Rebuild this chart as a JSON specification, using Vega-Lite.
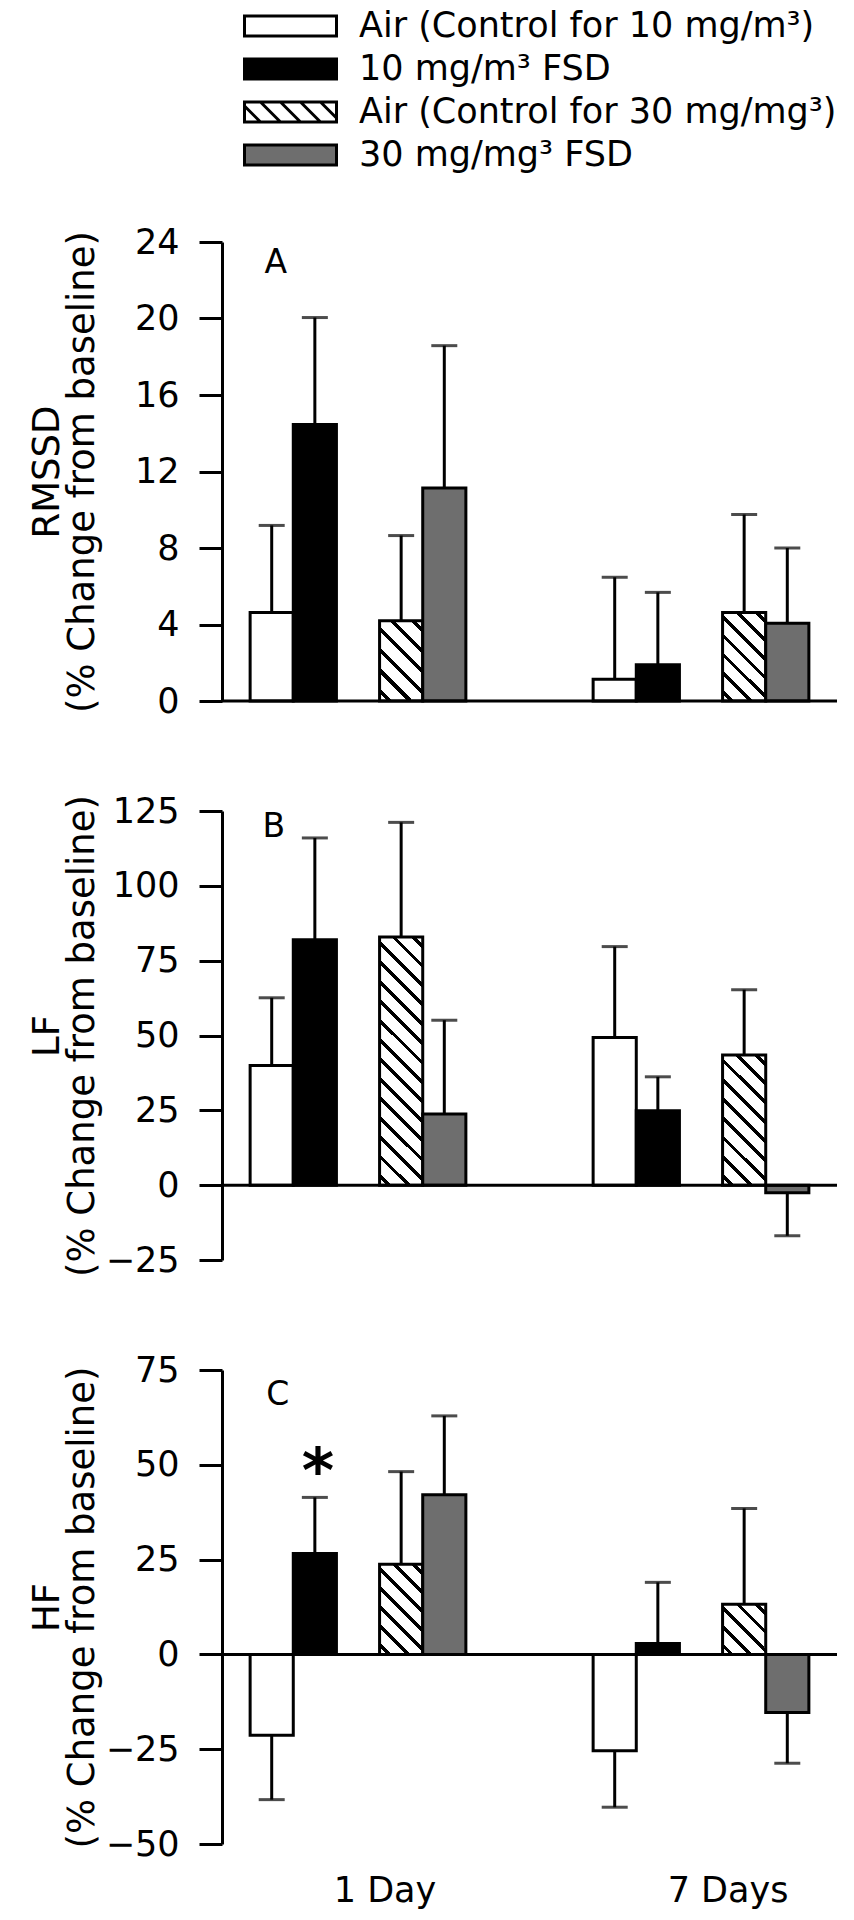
{
"$schema": "https://vega.github.io/schema/vega-lite/v6.json",
"background": "white",
"padding": {"left": 28, "top": 8, "right": 10, "bottom": 10},
"config": {
  "view": {"stroke": null},
  "font": "DejaVu Sans",
  "axis": {"domainColor": "black", "domainWidth": 3, "tickColor": "black", "tickWidth": 3, "labelColor": "black", "labelFont": "DejaVu Sans", "titleFont": "DejaVu Sans", "titleColor": "black", "titleFontWeight": "normal", "grid": false},
  "axisY": {"tickSize": 23, "labelFontSize": 35, "labelPadding": 20, "titleFontSize": 37, "titleAngle": 270, "titleAlign": "center", "titleBaseline": "alphabetic", "titleX": -164, "titleLineHeight": 35}
},
"datasets": {
  "bars": [
    {"panel": "A", "day": "1 Day", "group": "Air (Control for 10 mg/m³)", "mean": 4.63, "err": 9.18},
    {"panel": "A", "day": "1 Day", "group": "10 mg/m³ FSD", "mean": 14.46, "err": 20.05},
    {"panel": "A", "day": "1 Day", "group": "Air (Control for 30 mg/mg³)", "mean": 4.2, "err": 8.65},
    {"panel": "A", "day": "1 Day", "group": "30 mg/mg³ FSD", "mean": 11.14, "err": 18.58},
    {"panel": "A", "day": "7 Days", "group": "Air (Control for 10 mg/m³)", "mean": 1.14, "err": 6.47},
    {"panel": "A", "day": "7 Days", "group": "10 mg/m³ FSD", "mean": 1.9, "err": 5.68},
    {"panel": "A", "day": "7 Days", "group": "Air (Control for 30 mg/mg³)", "mean": 4.63, "err": 9.75},
    {"panel": "A", "day": "7 Days", "group": "30 mg/mg³ FSD", "mean": 4.07, "err": 8.0},
    {"panel": "B", "day": "1 Day", "group": "Air (Control for 10 mg/m³)", "mean": 40.0, "err": 62.6},
    {"panel": "B", "day": "1 Day", "group": "10 mg/m³ FSD", "mean": 82.0, "err": 116.0},
    {"panel": "B", "day": "1 Day", "group": "Air (Control for 30 mg/mg³)", "mean": 82.9, "err": 121.2},
    {"panel": "B", "day": "1 Day", "group": "30 mg/mg³ FSD", "mean": 23.8, "err": 55.1},
    {"panel": "B", "day": "7 Days", "group": "Air (Control for 10 mg/m³)", "mean": 49.3, "err": 79.7},
    {"panel": "B", "day": "7 Days", "group": "10 mg/m³ FSD", "mean": 24.9, "err": 36.2},
    {"panel": "B", "day": "7 Days", "group": "Air (Control for 30 mg/mg³)", "mean": 43.5, "err": 65.3},
    {"panel": "B", "day": "7 Days", "group": "30 mg/mg³ FSD", "mean": -2.5, "err": -16.9},
    {"panel": "C", "day": "1 Day", "group": "Air (Control for 10 mg/m³)", "mean": -21.3, "err": -38.3},
    {"panel": "C", "day": "1 Day", "group": "10 mg/m³ FSD", "mean": 26.6, "err": 41.4},
    {"panel": "C", "day": "1 Day", "group": "Air (Control for 30 mg/mg³)", "mean": 23.8, "err": 48.2},
    {"panel": "C", "day": "1 Day", "group": "30 mg/mg³ FSD", "mean": 42.1, "err": 62.9},
    {"panel": "C", "day": "7 Days", "group": "Air (Control for 10 mg/m³)", "mean": -25.4, "err": -40.3},
    {"panel": "C", "day": "7 Days", "group": "10 mg/m³ FSD", "mean": 2.9, "err": 19.0},
    {"panel": "C", "day": "7 Days", "group": "Air (Control for 30 mg/mg³)", "mean": 13.2, "err": 38.5},
    {"panel": "C", "day": "7 Days", "group": "30 mg/mg³ FSD", "mean": -15.3, "err": -28.7}
  ]
},
"spacing": 110,
"bounds": "flush",
"resolve": {"scale": {"y": "independent", "fill": "shared"}, "legend": {"fill": "shared"}},
"vconcat": [
{
  "width": 615, "height": 459,
  "layer": [
    {
      "data": {"name": "bars"},
      "transform": [{"filter": "datum.panel === 'A'"}],
      "mark": {"type": "bar", "stroke": "black", "strokeWidth": 3, "width": {"band": 1}},
      "encoding": {
        "x": {"field": "day", "type": "nominal", "sort": ["1 Day", "7 Days"], "scale": {"paddingInner": 0.371, "paddingOuter": 0.082}, "axis": null},
        "xOffset": {"field": "group", "type": "nominal", "scale": {"domain": ["Air (Control for 10 mg/m³)", "10 mg/m³ FSD", "gap", "Air (Control for 30 mg/mg³)", "30 mg/mg³ FSD"], "paddingInner": 0, "paddingOuter": 0}},
        "y": {"field": "mean", "type": "quantitative", "scale": {"domain": [0, 24], "nice": false, "zero": false}, "axis": {"values": [0, 4, 8, 12, 16, 20, 24], "title": ["RMSSD", "(% Change from baseline)"], "titleY": 229.5}},
        "fill": {
          "field": "group", "type": "nominal",
          "scale": {"domain": ["Air (Control for 10 mg/m³)", "10 mg/m³ FSD", "Air (Control for 30 mg/mg³)", "30 mg/mg³ FSD"], "range": ["white", "black", "white", "#6e6e6e"]},
          "legend": {
            "title": null, "orient": "none", "legendX": 22, "legendY": -233.5, "direction": "vertical", "padding": 0,
            "symbolType": "M-4.6,-1H4.6V1H-4.6Z", "symbolSize": 400, "symbolStrokeColor": "black", "symbolStrokeWidth": 3, "symbolOffset": 29,
            "labelFont": "DejaVu Sans", "labelFontSize": 35, "labelColor": "black", "labelLimit": 800, "labelOffset": 51, "rowPadding": 7,
            "encode": {"symbols": {"update": {
              "shape": [
                {"test": "datum.value === 'Air (Control for 30 mg/mg³)'", "value": "M-4.6,-1H4.6V1H-4.6Z M-4.6,-0.6L-3,1 M-3,-1L-1,1 M-1,-1L1,1 M1,-1L3,1 M3,-1L4.6,0.6"},
                {"value": "M-4.6,-1H4.6V1H-4.6Z"}
              ],
              "fill": [
                {"test": "datum.value === '10 mg/m³ FSD'", "value": "black"},
                {"test": "datum.value === '30 mg/mg³ FSD'", "value": "#6e6e6e"},
                {"value": "white"}
              ],
              "stroke": {"value": "black"},
              "strokeWidth": {"value": 3},
              "opacity": {"value": 1}
            }}}
          },
          "condition": [
            {"test": "datum.day === '1 Day' && datum.group === 'Air (Control for 30 mg/mg³)'", "value": {"gradient": "linear", "x1": 0, "y1": 1, "x2": 0.6412, "y2": -0.1929, "stops": [
                {"offset": 0.0625, "color": "#fff"}, {"offset": 0.0625, "color": "#000"}, {"offset": 0.1042, "color": "#000"}, {"offset": 0.1042, "color": "#fff"},
                {"offset": 0.2292, "color": "#fff"}, {"offset": 0.2292, "color": "#000"}, {"offset": 0.2708, "color": "#000"}, {"offset": 0.2708, "color": "#fff"},
                {"offset": 0.3958, "color": "#fff"}, {"offset": 0.3958, "color": "#000"}, {"offset": 0.4375, "color": "#000"}, {"offset": 0.4375, "color": "#fff"},
                {"offset": 0.5625, "color": "#fff"}, {"offset": 0.5625, "color": "#000"}, {"offset": 0.6042, "color": "#000"}, {"offset": 0.6042, "color": "#fff"},
                {"offset": 0.7292, "color": "#fff"}, {"offset": 0.7292, "color": "#000"}, {"offset": 0.7708, "color": "#000"}, {"offset": 0.7708, "color": "#fff"},
                {"offset": 0.8958, "color": "#fff"}, {"offset": 0.8958, "color": "#000"}, {"offset": 0.9375, "color": "#000"}, {"offset": 0.9375, "color": "#fff"}]}},
            {"test": "datum.day === '7 Days' && datum.group === 'Air (Control for 30 mg/mg³)'", "value": {"gradient": "linear", "x1": 0, "y1": 1, "x2": 0.5841, "y2": -0.2022, "stops": [
                {"offset": 0.0536, "color": "#fff"}, {"offset": 0.0536, "color": "#000"}, {"offset": 0.0893, "color": "#000"}, {"offset": 0.0893, "color": "#fff"},
                {"offset": 0.1964, "color": "#fff"}, {"offset": 0.1964, "color": "#000"}, {"offset": 0.2321, "color": "#000"}, {"offset": 0.2321, "color": "#fff"},
                {"offset": 0.3393, "color": "#fff"}, {"offset": 0.3393, "color": "#000"}, {"offset": 0.375, "color": "#000"}, {"offset": 0.375, "color": "#fff"},
                {"offset": 0.4821, "color": "#fff"}, {"offset": 0.4821, "color": "#000"}, {"offset": 0.5179, "color": "#000"}, {"offset": 0.5179, "color": "#fff"},
                {"offset": 0.625, "color": "#fff"}, {"offset": 0.625, "color": "#000"}, {"offset": 0.6607, "color": "#000"}, {"offset": 0.6607, "color": "#fff"},
                {"offset": 0.7679, "color": "#fff"}, {"offset": 0.7679, "color": "#000"}, {"offset": 0.8036, "color": "#000"}, {"offset": 0.8036, "color": "#fff"},
                {"offset": 0.9107, "color": "#fff"}, {"offset": 0.9107, "color": "#000"}, {"offset": 0.9464, "color": "#000"}, {"offset": 0.9464, "color": "#fff"}]}}
          ]
        }
      }
    },
    {
      "data": {"values": [{"v": 0}]},
      "mark": {"type": "rule", "color": "black", "strokeWidth": 3},
      "encoding": {"y": {"field": "v", "type": "quantitative"}}
    },
    {
      "data": {"name": "bars"},
      "transform": [{"filter": "datum.panel === 'A'"}],
      "mark": {"type": "rule", "color": "black", "strokeWidth": 3},
      "encoding": {
        "x": {"field": "day", "type": "nominal", "sort": ["1 Day", "7 Days"], "axis": null},
        "xOffset": {"field": "group", "type": "nominal"},
        "y": {"field": "mean", "type": "quantitative"},
        "y2": {"field": "err"}
      }
    },
    {
      "data": {"name": "bars"},
      "transform": [{"filter": "datum.panel === 'A'"}],
      "mark": {"type": "tick", "color": "black", "thickness": 3, "size": 26},
      "encoding": {
        "x": {"field": "day", "type": "nominal", "sort": ["1 Day", "7 Days"], "axis": null},
        "xOffset": {"field": "group", "type": "nominal"},
        "y": {"field": "err", "type": "quantitative"}
      }
    },
    {
      "data": {"values": [{"day": "1 Day", "group": "Air (Control for 10 mg/m³)", "y": 24, "label": "A"}]},
      "mark": {"type": "text", "fontSize": 33, "baseline": "top", "dy": 5, "dx": 4, "color": "black", "font": "DejaVu Sans"},
      "encoding": {
        "x": {"field": "day", "type": "nominal", "sort": ["1 Day", "7 Days"], "axis": null},
        "xOffset": {"field": "group", "type": "nominal"},
        "y": {"field": "y", "type": "quantitative"},
        "text": {"field": "label"}
      }
    }
  ]
},
{
  "width": 615, "height": 449,
  "layer": [
    {
      "data": {"name": "bars"},
      "transform": [{"filter": "datum.panel === 'B'"}],
      "mark": {"type": "bar", "stroke": "black", "strokeWidth": 3, "width": {"band": 1}},
      "encoding": {
        "x": {"field": "day", "type": "nominal", "sort": ["1 Day", "7 Days"], "scale": {"paddingInner": 0.371, "paddingOuter": 0.082}, "axis": null},
        "xOffset": {"field": "group", "type": "nominal", "scale": {"domain": ["Air (Control for 10 mg/m³)", "10 mg/m³ FSD", "gap", "Air (Control for 30 mg/mg³)", "30 mg/mg³ FSD"], "paddingInner": 0, "paddingOuter": 0}},
        "y": {"field": "mean", "type": "quantitative", "scale": {"domain": [-25, 125], "nice": false, "zero": false}, "axis": {"values": [-25, 0, 25, 50, 75, 100, 125], "title": ["LF", "(% Change from baseline)"], "titleY": 224.5}},
        "fill": {
          "field": "group", "type": "nominal", "legend": null,
          "condition": [
            {"test": "datum.day === '1 Day' && datum.group === 'Air (Control for 30 mg/mg³)'", "value": {"gradient": "linear", "x1": 0, "y1": 1, "x2": 0.1975, "y2": -0.1391, "stops": [
                {"offset": 0.025, "color": "#fff"}, {"offset": 0.025, "color": "#000"}, {"offset": 0.0417, "color": "#000"}, {"offset": 0.0417, "color": "#fff"},
                {"offset": 0.0917, "color": "#fff"}, {"offset": 0.0917, "color": "#000"}, {"offset": 0.1083, "color": "#000"}, {"offset": 0.1083, "color": "#fff"},
                {"offset": 0.1583, "color": "#fff"}, {"offset": 0.1583, "color": "#000"}, {"offset": 0.175, "color": "#000"}, {"offset": 0.175, "color": "#fff"},
                {"offset": 0.225, "color": "#fff"}, {"offset": 0.225, "color": "#000"}, {"offset": 0.2417, "color": "#000"}, {"offset": 0.2417, "color": "#fff"},
                {"offset": 0.2917, "color": "#fff"}, {"offset": 0.2917, "color": "#000"}, {"offset": 0.3083, "color": "#000"}, {"offset": 0.3083, "color": "#fff"},
                {"offset": 0.3583, "color": "#fff"}, {"offset": 0.3583, "color": "#000"}, {"offset": 0.375, "color": "#000"}, {"offset": 0.375, "color": "#fff"},
                {"offset": 0.425, "color": "#fff"}, {"offset": 0.425, "color": "#000"}, {"offset": 0.4417, "color": "#000"}, {"offset": 0.4417, "color": "#fff"},
                {"offset": 0.4917, "color": "#fff"}, {"offset": 0.4917, "color": "#000"}, {"offset": 0.5083, "color": "#000"}, {"offset": 0.5083, "color": "#fff"},
                {"offset": 0.5583, "color": "#fff"}, {"offset": 0.5583, "color": "#000"}, {"offset": 0.575, "color": "#000"}, {"offset": 0.575, "color": "#fff"},
                {"offset": 0.625, "color": "#fff"}, {"offset": 0.625, "color": "#000"}, {"offset": 0.6417, "color": "#000"}, {"offset": 0.6417, "color": "#fff"},
                {"offset": 0.6917, "color": "#fff"}, {"offset": 0.6917, "color": "#000"}, {"offset": 0.7083, "color": "#000"}, {"offset": 0.7083, "color": "#fff"},
                {"offset": 0.7583, "color": "#fff"}, {"offset": 0.7583, "color": "#000"}, {"offset": 0.775, "color": "#000"}, {"offset": 0.775, "color": "#fff"},
                {"offset": 0.825, "color": "#fff"}, {"offset": 0.825, "color": "#000"}, {"offset": 0.8417, "color": "#000"}, {"offset": 0.8417, "color": "#fff"},
                {"offset": 0.8917, "color": "#fff"}, {"offset": 0.8917, "color": "#000"}, {"offset": 0.9083, "color": "#000"}, {"offset": 0.9083, "color": "#fff"},
                {"offset": 0.9583, "color": "#fff"}, {"offset": 0.9583, "color": "#000"}, {"offset": 0.975, "color": "#000"}, {"offset": 0.975, "color": "#fff"}]}},
            {"test": "datum.day === '7 Days' && datum.group === 'Air (Control for 30 mg/mg³)'", "value": {"gradient": "linear", "x1": 0, "y1": 1, "x2": 0.3968, "y2": -0.1996, "stops": [
                {"offset": 0.0417, "color": "#fff"}, {"offset": 0.0417, "color": "#000"}, {"offset": 0.0694, "color": "#000"}, {"offset": 0.0694, "color": "#fff"},
                {"offset": 0.1528, "color": "#fff"}, {"offset": 0.1528, "color": "#000"}, {"offset": 0.1806, "color": "#000"}, {"offset": 0.1806, "color": "#fff"},
                {"offset": 0.2639, "color": "#fff"}, {"offset": 0.2639, "color": "#000"}, {"offset": 0.2917, "color": "#000"}, {"offset": 0.2917, "color": "#fff"},
                {"offset": 0.375, "color": "#fff"}, {"offset": 0.375, "color": "#000"}, {"offset": 0.4028, "color": "#000"}, {"offset": 0.4028, "color": "#fff"},
                {"offset": 0.4861, "color": "#fff"}, {"offset": 0.4861, "color": "#000"}, {"offset": 0.5139, "color": "#000"}, {"offset": 0.5139, "color": "#fff"},
                {"offset": 0.5972, "color": "#fff"}, {"offset": 0.5972, "color": "#000"}, {"offset": 0.625, "color": "#000"}, {"offset": 0.625, "color": "#fff"},
                {"offset": 0.7083, "color": "#fff"}, {"offset": 0.7083, "color": "#000"}, {"offset": 0.7361, "color": "#000"}, {"offset": 0.7361, "color": "#fff"},
                {"offset": 0.8194, "color": "#fff"}, {"offset": 0.8194, "color": "#000"}, {"offset": 0.8472, "color": "#000"}, {"offset": 0.8472, "color": "#fff"},
                {"offset": 0.9306, "color": "#fff"}, {"offset": 0.9306, "color": "#000"}, {"offset": 0.9583, "color": "#000"}, {"offset": 0.9583, "color": "#fff"}]}}
          ]
        }
      }
    },
    {
      "data": {"values": [{"v": 0}]},
      "mark": {"type": "rule", "color": "black", "strokeWidth": 3},
      "encoding": {"y": {"field": "v", "type": "quantitative"}}
    },
    {
      "data": {"name": "bars"},
      "transform": [{"filter": "datum.panel === 'B'"}],
      "mark": {"type": "rule", "color": "black", "strokeWidth": 3},
      "encoding": {
        "x": {"field": "day", "type": "nominal", "sort": ["1 Day", "7 Days"], "axis": null},
        "xOffset": {"field": "group", "type": "nominal"},
        "y": {"field": "mean", "type": "quantitative"},
        "y2": {"field": "err"}
      }
    },
    {
      "data": {"name": "bars"},
      "transform": [{"filter": "datum.panel === 'B'"}],
      "mark": {"type": "tick", "color": "black", "thickness": 3, "size": 26},
      "encoding": {
        "x": {"field": "day", "type": "nominal", "sort": ["1 Day", "7 Days"], "axis": null},
        "xOffset": {"field": "group", "type": "nominal"},
        "y": {"field": "err", "type": "quantitative"}
      }
    },
    {
      "data": {"values": [{"day": "1 Day", "group": "Air (Control for 10 mg/m³)", "y": 125, "label": "B"}]},
      "mark": {"type": "text", "fontSize": 33, "baseline": "top", "dy": 0, "dx": 2, "color": "black", "font": "DejaVu Sans"},
      "encoding": {
        "x": {"field": "day", "type": "nominal", "sort": ["1 Day", "7 Days"], "axis": null},
        "xOffset": {"field": "group", "type": "nominal"},
        "y": {"field": "y", "type": "quantitative"},
        "text": {"field": "label"}
      }
    }
  ]
},
{
  "width": 615, "height": 474,
  "layer": [
    {
      "data": {"name": "bars"},
      "transform": [{"filter": "datum.panel === 'C'"}],
      "mark": {"type": "bar", "stroke": "black", "strokeWidth": 3, "width": {"band": 1}},
      "encoding": {
        "x": {"field": "day", "type": "nominal", "sort": ["1 Day", "7 Days"], "scale": {"paddingInner": 0.371, "paddingOuter": 0.082}, "axis": {"title": null, "domain": false, "ticks": false, "labelAngle": 0, "labelFontSize": 35, "labelPadding": 29, "labelOffset": 27}},
        "xOffset": {"field": "group", "type": "nominal", "scale": {"domain": ["Air (Control for 10 mg/m³)", "10 mg/m³ FSD", "gap", "Air (Control for 30 mg/mg³)", "30 mg/mg³ FSD"], "paddingInner": 0, "paddingOuter": 0}},
        "y": {"field": "mean", "type": "quantitative", "scale": {"domain": [-50, 75], "nice": false, "zero": false}, "axis": {"values": [-50, -25, 0, 25, 50, 75], "title": ["HF", "(% Change from baseline)"], "titleY": 237}},
        "fill": {
          "field": "group", "type": "nominal", "legend": null,
          "condition": [
            {"test": "datum.day === '1 Day' && datum.group === 'Air (Control for 30 mg/mg³)'", "value": {"gradient": "linear", "x1": 0, "y1": 1, "x2": 0.5779, "y2": -0.2028, "stops": [
                {"offset": 0.0536, "color": "#fff"}, {"offset": 0.0536, "color": "#000"}, {"offset": 0.0893, "color": "#000"}, {"offset": 0.0893, "color": "#fff"},
                {"offset": 0.1964, "color": "#fff"}, {"offset": 0.1964, "color": "#000"}, {"offset": 0.2321, "color": "#000"}, {"offset": 0.2321, "color": "#fff"},
                {"offset": 0.3393, "color": "#fff"}, {"offset": 0.3393, "color": "#000"}, {"offset": 0.375, "color": "#000"}, {"offset": 0.375, "color": "#fff"},
                {"offset": 0.4821, "color": "#fff"}, {"offset": 0.4821, "color": "#000"}, {"offset": 0.5179, "color": "#000"}, {"offset": 0.5179, "color": "#fff"},
                {"offset": 0.625, "color": "#fff"}, {"offset": 0.625, "color": "#000"}, {"offset": 0.6607, "color": "#000"}, {"offset": 0.6607, "color": "#fff"},
                {"offset": 0.7679, "color": "#fff"}, {"offset": 0.7679, "color": "#000"}, {"offset": 0.8036, "color": "#000"}, {"offset": 0.8036, "color": "#fff"},
                {"offset": 0.9107, "color": "#fff"}, {"offset": 0.9107, "color": "#000"}, {"offset": 0.9464, "color": "#000"}, {"offset": 0.9464, "color": "#fff"}]}},
            {"test": "datum.day === '7 Days' && datum.group === 'Air (Control for 30 mg/mg³)'", "value": {"gradient": "linear", "x1": 0, "y1": 1, "x2": 0.9241, "y2": -0.0659, "stops": [
                {"offset": 0.075, "color": "#fff"}, {"offset": 0.075, "color": "#000"}, {"offset": 0.125, "color": "#000"}, {"offset": 0.125, "color": "#fff"},
                {"offset": 0.275, "color": "#fff"}, {"offset": 0.275, "color": "#000"}, {"offset": 0.325, "color": "#000"}, {"offset": 0.325, "color": "#fff"},
                {"offset": 0.475, "color": "#fff"}, {"offset": 0.475, "color": "#000"}, {"offset": 0.525, "color": "#000"}, {"offset": 0.525, "color": "#fff"},
                {"offset": 0.675, "color": "#fff"}, {"offset": 0.675, "color": "#000"}, {"offset": 0.725, "color": "#000"}, {"offset": 0.725, "color": "#fff"},
                {"offset": 0.875, "color": "#fff"}, {"offset": 0.875, "color": "#000"}, {"offset": 0.925, "color": "#000"}, {"offset": 0.925, "color": "#fff"}]}}
          ]
        }
      }
    },
    {
      "data": {"values": [{"v": 0}]},
      "mark": {"type": "rule", "color": "black", "strokeWidth": 3},
      "encoding": {"y": {"field": "v", "type": "quantitative"}}
    },
    {
      "data": {"name": "bars"},
      "transform": [{"filter": "datum.panel === 'C'"}],
      "mark": {"type": "rule", "color": "black", "strokeWidth": 3},
      "encoding": {
        "x": {"field": "day", "type": "nominal", "sort": ["1 Day", "7 Days"]},
        "xOffset": {"field": "group", "type": "nominal"},
        "y": {"field": "mean", "type": "quantitative"},
        "y2": {"field": "err"}
      }
    },
    {
      "data": {"name": "bars"},
      "transform": [{"filter": "datum.panel === 'C'"}],
      "mark": {"type": "tick", "color": "black", "thickness": 3, "size": 26},
      "encoding": {
        "x": {"field": "day", "type": "nominal", "sort": ["1 Day", "7 Days"]},
        "xOffset": {"field": "group", "type": "nominal"},
        "y": {"field": "err", "type": "quantitative"}
      }
    },
    {
      "data": {"values": [{"day": "1 Day", "group": "Air (Control for 10 mg/m³)", "y": 75, "label": "C"}]},
      "mark": {"type": "text", "fontSize": 33, "baseline": "top", "dy": 9, "dx": 6, "color": "black", "font": "DejaVu Sans"},
      "encoding": {
        "x": {"field": "day", "type": "nominal", "sort": ["1 Day", "7 Days"]},
        "xOffset": {"field": "group", "type": "nominal"},
        "y": {"field": "y", "type": "quantitative"},
        "text": {"field": "label"}
      }
    },
    {
      "data": {"values": [{"day": "1 Day", "group": "10 mg/m³ FSD", "y": 41.4, "label": "*"}]},
      "mark": {"type": "text", "fontSize": 62, "fontWeight": "bold", "baseline": "alphabetic", "dy": -5, "dx": 3, "color": "black", "font": "DejaVu Sans"},
      "encoding": {
        "x": {"field": "day", "type": "nominal", "sort": ["1 Day", "7 Days"]},
        "xOffset": {"field": "group", "type": "nominal"},
        "y": {"field": "y", "type": "quantitative"},
        "text": {"field": "label"}
      }
    }
  ]
}
]
}
